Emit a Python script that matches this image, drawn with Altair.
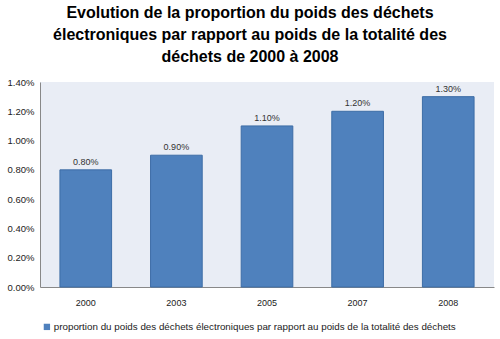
import altair as alt
import pandas as pd

years = ["2000", "2003", "2005", "2007", "2008"]
values = [0.008, 0.009, 0.011, 0.012, 0.013]
labels = ["0.80%", "0.90%", "1.10%", "1.20%", "1.30%"]
y_ticks = [0, 0.002, 0.004, 0.006, 0.008, 0.010, 0.012, 0.014]
series_name = "proportion du poids des déchets électroniques par rapport au poids de la totalité  des déchets"
title_lines = [
    "Evolution de la proportion du poids des déchets",
    "électroniques par rapport au poids de la totalité des",
    "déchets de 2000 à 2008",
]

df = pd.DataFrame({"year": years, "value": values, "label": labels, "series": [series_name] * len(years)})

x_axis = alt.Axis(title=None, labelAngle=0, ticks=False, domainColor="#888888",
                  labelFont="Liberation Sans", labelFontSize=9, labelColor="#222222", labelPadding=11)
y_axis = alt.Axis(title=None, format=".2%", values=y_ticks, labelOverlap=False, labelFlush=False,
                  grid=False, ticks=False, domainColor="#888888", labelFont="Liberation Sans",
                  labelFontSize=9.5, labelColor="#222222", labelPadding=6)
x_scale = alt.Scale(paddingInner=0.43, paddingOuter=0.22)
y_scale = alt.Scale(domain=[0, 0.014], nice=False)

base = alt.Chart(df)

bars = base.mark_bar(color="#4F81BD", stroke="#3D6DA6", strokeWidth=1).encode(
    x=alt.X("year:N", sort=years, scale=x_scale, axis=x_axis),
    y=alt.Y("value:Q", scale=y_scale, axis=y_axis),
    color=alt.Color("series:N", scale=alt.Scale(range=["#4F81BD"]),
                    legend=alt.Legend(title=None, orient="none", legendX=2, legendY=240,
                                      symbolType="square", symbolSize=40, symbolStrokeWidth=0,
                                      labelFont="Liberation Sans", labelFontSize=9.8, labelColor="#222222",
                                      labelLimit=600, labelOffset=2)),
)

text = base.mark_text(dy=-8, font="Liberation Sans", fontSize=9, color="#333333").encode(
    x=alt.X("year:N", sort=years, scale=x_scale, axis=x_axis),
    y=alt.Y("value:Q", scale=y_scale, axis=y_axis),
    text="label:N",
)

chart = (bars + text).properties(
    width=454,
    height=205,
    autosize=alt.AutoSizeParams(type="none"),
    padding={"left": 40, "top": 82, "right": 6, "bottom": 52},
    background="white",
    title=alt.TitleParams(title_lines, font="Liberation Sans", fontSize=16, fontWeight="bold",
                          color="#000000", anchor="middle", frame="group", offset=12, dx=-17, lineHeight=22),
).configure_view(fill="#E9EDF5", stroke=None)

chart.save("out.html", embed_options={"renderer": "svg", "actions": False})
